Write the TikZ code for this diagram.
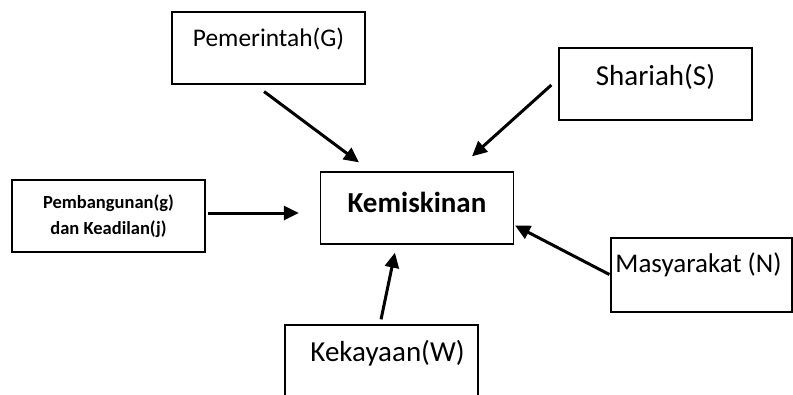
\documentclass[tikz,border=0pt]{standalone}
\usepackage{fontspec}
\setmainfont{Carlito}
\usetikzlibrary{arrows.meta, positioning}
\tikzset{
    kotak/.style={draw, line width=1.3pt, fill=white, minimum width=193pt, minimum height=72pt, inner sep=0pt},
    teks/.style={inner sep=0pt, font=\fontsize{29}{34}\selectfont},
    panah/.style 2 args={-{Triangle[length=15pt,width=14pt]}, line width=3pt, shorten <=#1, shorten >=#2}
}
\begin{document}
\begin{tikzpicture}[x=1pt, y=-1pt]
    \clip (0,0) rectangle (793,394);
    \fill[white] (0,0) rectangle (793,394);
    % kotak
    \node[kotak] (pem) at (268.5,48) {};
    \node[kotak] (sha) at (655.5,84) {};
    \node[kotak] (pbg) at (108.5,216) {};
    \node[kotak] (kem) at (417,208) {};
    \node[kotak, minimum width=181pt, minimum height=74pt] (mas) at (701.5,275) {};
    \node[kotak, minimum height=100pt] (kek) at (381.5,375) {};
    % teks
    \node[teks, font=\fontsize{25.4}{30}\selectfont] (tpem) at ([yshift=-28pt]pem.north) {Pemerintah(G)};
    \node[teks] (tsha) at ([yshift=-30pt]sha.north) {Shariah(S)};
    \node[teks, align=center, font=\fontsize{18.5}{26}\selectfont\bfseries] (tpbg) at (pbg.center) {Pembangunan(g)\\dan Keadilan(j)};
    \node[teks, font=\fontsize{29}{33}\selectfont\bfseries] (tkem) at ([yshift=-31pt]kem.north) {Kemiskinan};
    \node[teks, font=\fontsize{27}{32}\selectfont] (tmas) at ([xshift=-3pt, yshift=-27pt]mas.north) {Masyarakat (N)};
    \node[teks] (tkek) at ([xshift=6pt, yshift=-29pt]kek.north) {Kekayaan(W)};
    % panah
    \draw[panah={11.6pt}{15pt}] ([xshift=-13.7pt]pem.south) -- ([xshift=-46pt]kem.north);
    \draw[panah={9.4pt}{22.4pt}] ([yshift=5.3pt]sha.west) -- ([xshift=38.3pt]kem.north);
    \draw[panah={2pt}{21pt}] ([yshift=3pt]pbg.east) -- ([yshift=-5pt]kem.west);
    \draw[panah={1pt}{1pt}] (mas.west) -- ([yshift=-17pt]kem.east);
    \draw[panah={5.1pt}{8.2pt}] ([xshift=-1.5pt]kek.north) -- ([xshift=-20.4pt]kem.south);
\end{tikzpicture}
\end{document}
